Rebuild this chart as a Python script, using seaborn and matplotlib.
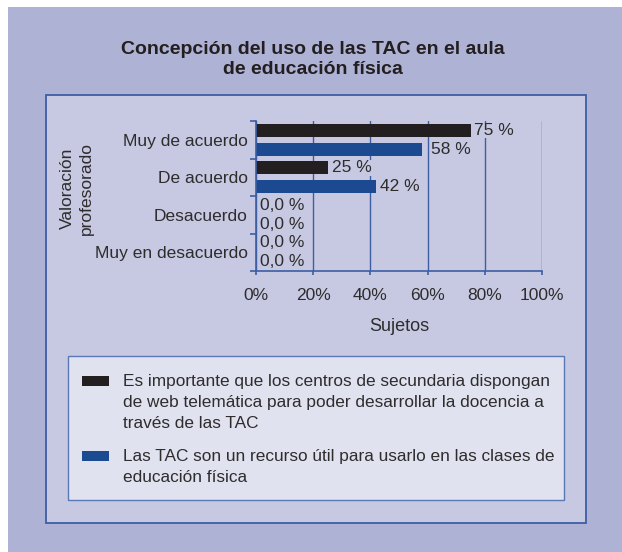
import matplotlib
matplotlib.use("Agg")
import matplotlib.pyplot as plt
from matplotlib.patches import Rectangle
import pandas as pd
import seaborn as sns

# datos del grafico
categorias = ['Muy de acuerdo', 'De acuerdo', 'Desacuerdo', 'Muy en desacuerdo']
serie_web = [75, 25, 0, 0]
serie_util = [58, 42, 0, 0]
etiquetas_web = ['75 %', '25 %', '0,0 %', '0,0 %']
etiquetas_util = ['58 %', '42 %', '0,0 %', '0,0 %']
nombres_series = [
    'Es importante que los centros de secundaria dispongan\n'
    'de web telemática para poder desarrollar la docencia a\n'
    'través de las TAC',
    'Las TAC son un recurso útil para usarlo en las clases de\n'
    'educación física',
]
ticks_x = [0, 20, 40, 60, 80, 100]
ticks_x_labels = ['0%', '20%', '40%', '60%', '80%', '100%']

titulo = 'Concepción del uso de las TAC en el aula\nde educación física'

# colores
fondo = '#aeb2d5'
panel = '#c6c9e1'
caja_leyenda = '#e0e2ef'
azul_borde = '#3d5ea3'
negro = '#231f20'
azul = '#1b4a91'
texto = '#2e2c2d'

sns.set_theme(style='white')
plt.rcParams['font.family'] = ['Liberation Sans', 'DejaVu Sans']

W, H = 622, 552


def fx(px):
    return px / W


def fy(py):
    return 1 - py / H


fig = plt.figure(figsize=(W / 100, H / 100), dpi=100, facecolor='white')

# fondos
fig.add_artist(Rectangle((fx(8), 0), fx(614), (H - 7) / H, transform=fig.transFigure,
                         facecolor=fondo, edgecolor='none', zorder=-3))
fig.add_artist(Rectangle((fx(46), fy(523)), fx(540), (523 - 95) / H, transform=fig.transFigure,
                         facecolor=panel, edgecolor=azul_borde, linewidth=1.3, zorder=-2))
fig.add_artist(Rectangle((fx(68), fy(500)), fx(496), (500 - 356) / H, transform=fig.transFigure,
                         facecolor=caja_leyenda, edgecolor='#5a78b5', linewidth=1.0, zorder=-1))

fig.text(0.503, fy(59.5), titulo, ha='center', va='center', fontsize=14, fontweight='bold',
         color=negro, linespacing=1.3)

df = pd.DataFrame({
    'categoria': categorias * 2,
    'valor': serie_web + serie_util,
    'serie': [nombres_series[0]] * len(categorias) + [nombres_series[1]] * len(categorias),
})

ax = fig.add_axes([fx(256), fy(271), fx(286), 150 / H])
ax.patch.set_alpha(0)
sns.barplot(data=df, y='categoria', x='valor', hue='serie', orient='h',
            palette=[negro, azul], width=1.0, gap=0.3, legend=False, ax=ax,
            saturation=1, errorbar=None, linewidth=0)

ax.set_xlim(0, 100)
ax.set_xticks(ticks_x)
ax.set_xticklabels(ticks_x_labels)
ax.set_axisbelow(True)
ax.grid(axis='x', color=azul_borde, linewidth=1.0)
ax.grid(axis='y', visible=False)
for s in ['top', 'right']:
    ax.spines[s].set_visible(False)
for s in ['left', 'bottom']:
    ax.spines[s].set_color(azul_borde)
    ax.spines[s].set_linewidth(1.2)

ax.set_yticks([i - 0.5 for i in range(len(categorias) + 1)], minor=True)
ax.tick_params(axis='y', which='major', length=0, pad=6, labelsize=12.5, labelcolor=texto)
ax.tick_params(axis='y', which='minor', length=4, color=azul_borde, width=1.2, left=True)
ax.tick_params(axis='x', length=3, color=azul_borde, width=1.2, bottom=True, pad=9,
               labelsize=12.5, labelcolor=texto)

ax.set_xlabel('Sujetos', fontsize=13, color=texto, labelpad=11)
ax.set_ylabel('Valoración\nprofesorado', fontsize=12.5, color=texto, linespacing=1.4)
ax.yaxis.set_label_coords(-0.565, 0.55)

# etiquetas de valores
paddings = [[3, 5, 4, 4], [9, 4, 4, 4]]
for cont, lbls, pads in zip(ax.containers, [etiquetas_web, etiquetas_util], paddings):
    for bar, lbl, pad in zip(cont, lbls, pads):
        ax.annotate(lbl, (bar.get_width(), bar.get_y() + bar.get_height() / 2),
                    xytext=(pad * 0.72, 0), textcoords='offset points',
                    ha='left', va='center', fontsize=12.5, color=texto,
                    bbox=dict(facecolor=panel, edgecolor='none', pad=0.3))

# leyenda
for i, (nombre, color) in enumerate(zip(nombres_series, [negro, azul])):
    y0 = [381, 456][i]
    fig.add_artist(Rectangle((fx(82), fy(y0 + 5)), fx(27), 10 / H, transform=fig.transFigure,
                             facecolor=color, edgecolor='none'))
    fig.text(fx(123), fy(y0 - 7), nombre, ha='left', va='top', fontsize=12.4,
             color=texto, linespacing=1.5)

fig.savefig('out.png', dpi=100, facecolor='white')
